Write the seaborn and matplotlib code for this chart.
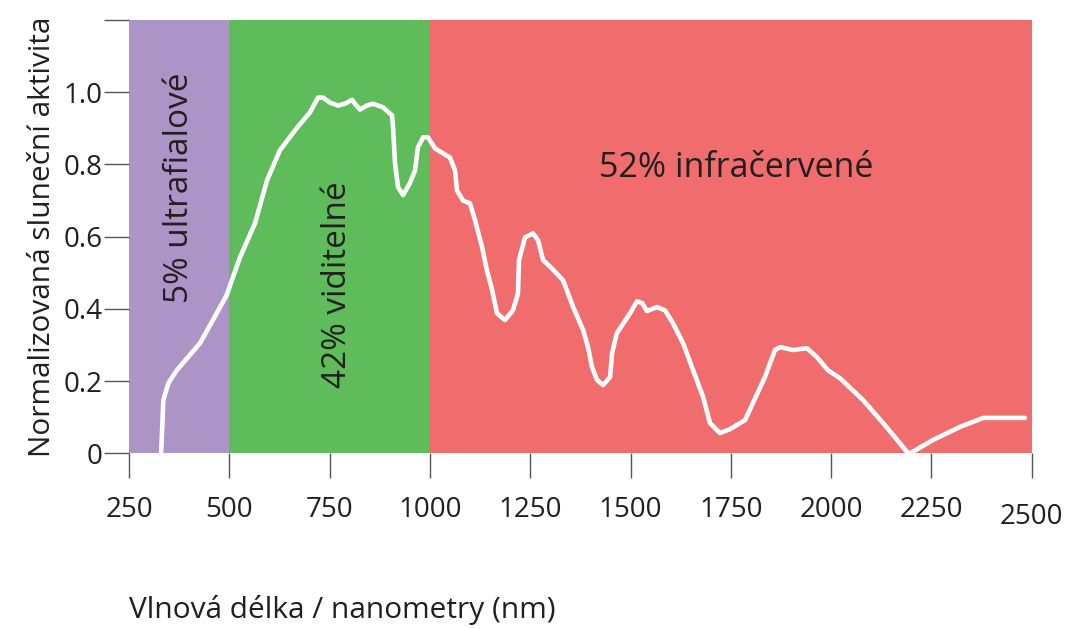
import matplotlib
matplotlib.use("Agg")
import matplotlib.pyplot as plt
import matplotlib.transforms as mtransforms
import seaborn as sns

# wavelength (nm) and normalised solar activity
wavelength = [330, 335.5, 348, 369, 427, 493.5, 509, 526.7, 564, 594, 626, 669, 701, 721,
              733.5, 751, 771, 788, 806, 813, 826, 843, 858, 883, 905.5, 908, 913, 920.5,
              933, 950, 963, 970, 983, 995, 1013, 1050, 1062.5, 1067.5, 1082.5, 1100,
              1112.5, 1130, 1142, 1155, 1167, 1187, 1207, 1219.5, 1222, 1237, 1257, 1269.5,
              1282, 1304, 1332, 1357, 1382, 1394, 1404, 1416.5, 1431.5, 1449, 1454, 1466,
              1499, 1516, 1529, 1541, 1566, 1586, 1606, 1631, 1656, 1681, 1698, 1723, 1748,
              1785.5, 1805, 1835, 1860, 1873, 1905, 1940, 1965, 1992, 2022, 2080, 2134,
              2189, 2197, 2254, 2321, 2379, 2483]
activity = [0.0, 0.147, 0.194, 0.230, 0.305, 0.438, 0.488, 0.543, 0.637, 0.756, 0.839, 0.902,
            0.944, 0.985, 0.985, 0.971, 0.963, 0.968, 0.979, 0.968, 0.952, 0.963, 0.968,
            0.958, 0.936, 0.903, 0.803, 0.737, 0.715, 0.748, 0.784, 0.847, 0.875, 0.875,
            0.844, 0.819, 0.784, 0.728, 0.700, 0.692, 0.645, 0.571, 0.507, 0.452, 0.388,
            0.369, 0.396, 0.443, 0.535, 0.598, 0.609, 0.590, 0.535, 0.512, 0.479, 0.405,
            0.341, 0.294, 0.239, 0.203, 0.189, 0.211, 0.277, 0.333, 0.388, 0.421, 0.416,
            0.394, 0.405, 0.396, 0.360, 0.305, 0.230, 0.156, 0.084, 0.056, 0.067, 0.092,
            0.139, 0.211, 0.286, 0.294, 0.286, 0.291, 0.266, 0.230, 0.208, 0.147, 0.078,
            0.004, 0.0, 0.037, 0.073, 0.098, 0.098]

# spectral bands
band_start = [250, 500, 1000]
band_end = [500, 1000, 2500]
band_labels = ["5% ultrafialové", "42% viditelné", "52% infračervené"]
band_colors = ["#AC95C6", "#5FBC5A", "#F16D6D"]

x_ticks = [250, 500, 750, 1000, 1250, 1500, 1750, 2000, 2250, 2500]
y_ticks = [0, 0.2, 0.4, 0.6, 0.8, 1.0, 1.2]
y_tick_labels = ["0", "0.2", "0.4", "0.6", "0.8", "1.0", ""]

sns.set_theme(style="ticks")
plt.rcParams["font.family"] = ["Open Sans", "DejaVu Sans"]
text_color = "#231F20"

fig = plt.figure(figsize=(10.7, 6.28), dpi=100)
ax = fig.add_axes([0.1206, 0.2782, 0.9642 - 0.1206, 0.9682 - 0.2782])

for start, end, color in zip(band_start, band_end, band_colors):
    ax.axvspan(start, end, color=color, lw=0, zorder=0)

sns.lineplot(x=wavelength, y=activity, sort=False, color="white", lw=3.3,
             ax=ax, zorder=3)
ax.lines[-1].set_solid_joinstyle("round")
ax.lines[-1].set_solid_capstyle("round")

# band annotations
ax.text(375, 0.736, band_labels[0], rotation=90, ha="center", va="center",
        fontsize=24, color=text_color)
ax.text(770, 0.468, band_labels[1], rotation=90, ha="center", va="center",
        fontsize=24, color=text_color)
ax.text(1763, 0.764, band_labels[2], ha="center", va="baseline",
        fontsize=24.5, color=text_color)

ax.set_xlim(250, 2500)
ax.set_ylim(0, 1.2)
ax.set_xticks(x_ticks)
ax.set_yticks(y_ticks)
ax.set_yticklabels(y_tick_labels)
for side in ["top", "right", "bottom", "left"]:
    ax.spines[side].set_visible(False)
ax.tick_params(axis="both", length=18, width=1, color="#555555",
               labelsize=20, labelcolor=text_color)
ax.tick_params(axis="x", pad=13)
ax.tick_params(axis="y", pad=1)

# the last x label sits a little lower in the original
last = ax.get_xticklabels()[-1]
last.set_transform(last.get_transform() +
                   mtransforms.ScaledTranslation(0, -5 / 72, fig.dpi_scale_trans))

ax.set_xlabel("Vlnová délka / nanometry (nm)", loc="left", fontsize=21.5,
              color=text_color, labelpad=46)
ax.set_ylabel("Normalizovaná sluneční aktivita", fontsize=21.5, color=text_color,
              labelpad=5)

fig.savefig("out.png", dpi=100)
plt.close(fig)
